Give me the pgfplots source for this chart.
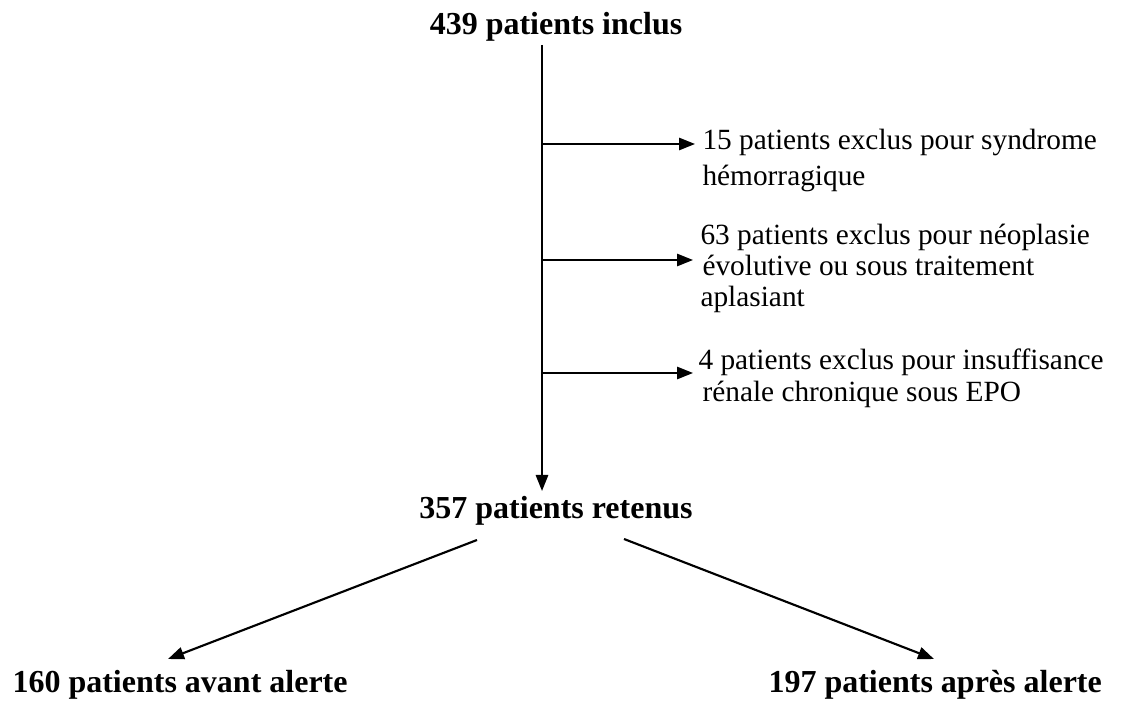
\documentclass[border=0pt]{standalone}
\usepackage{pgfplots}
\pgfplotsset{compat=1.18}
\usepackage{fontspec}
\setmainfont{Liberation Serif}
\usetikzlibrary{arrows.meta}
\begin{document}
\begin{tikzpicture}
\begin{axis}[
  scale only axis,
  width=421.125pt, height=262.875pt,
  xmin=0, xmax=1123, ymin=0, ymax=701,
  y dir=reverse,
  hide axis,
  clip=false,
  cycle list={{black,solid}},
  no markers,
  every axis plot/.append style={line width=0.8pt, black, solid, -{Triangle[length=6pt,width=4.6pt]}},
]
\path (rel axis cs:0,0) rectangle (rel axis cs:1,1);
% main vertical flow
\addplot coordinates {(542,45) (542,491)};
% exclusions
\addplot coordinates {(542,144) (695,144)};
\addplot coordinates {(542,260) (693,260)};
\addplot coordinates {(542,373) (693,373)};
% split
\addplot coordinates {(477,540) (168,659)};
\addplot coordinates {(624,539) (934,659)};

\begin{scope}[every node/.style={inner sep=0pt, font=\fontsize{11pt}{13pt}\selectfont}]
\node[anchor=base west] at (axis cs:702,150) {15 patients exclus pour syndrome};
\node[anchor=base west] at (axis cs:702,186) {hémorragique};
\node[anchor=base west] at (axis cs:700,245) {63 patients exclus pour néoplasie};
\node[anchor=base west] at (axis cs:702,276) {évolutive ou sous traitement};
\node[anchor=base west] at (axis cs:700,307) {aplasiant};
\node[anchor=base west] at (axis cs:698,370) {4 patients exclus pour insuffisance};
\node[anchor=base west] at (axis cs:702,402) {rénale chronique sous EPO};
\end{scope}
\begin{scope}[every node/.style={inner sep=0pt, font=\fontsize{12pt}{14pt}\selectfont\bfseries}]
\node[anchor=base] at (axis cs:556,35) {439 patients inclus};
\node[anchor=base] at (axis cs:556,518) {357 patients retenus};
\node[anchor=base west] at (axis cs:12,692) {160 patients avant alerte};
\node[anchor=base west] at (axis cs:768,692) {197 patients après alerte};
\end{scope}
\end{axis}
\end{tikzpicture}
\end{document}
